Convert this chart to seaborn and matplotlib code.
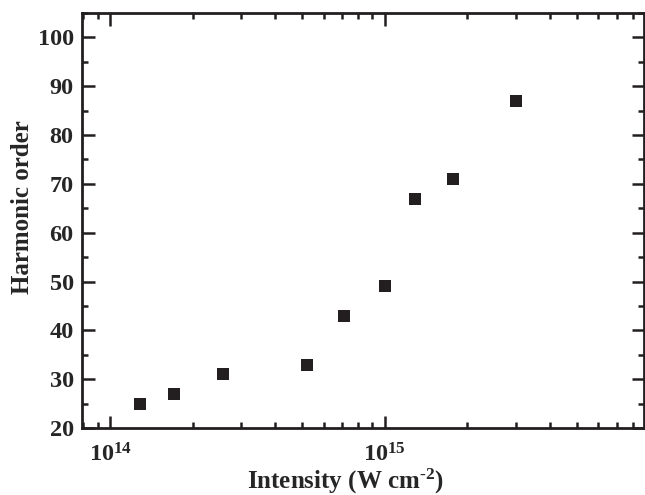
import numpy as np
import pandas as pd
import seaborn as sns
import matplotlib
matplotlib.use("Agg")
import matplotlib.pyplot as plt
from matplotlib.ticker import FuncFormatter, MultipleLocator, LogLocator

# values
intensity = [1.29e14, 1.71e14, 2.57e14, 5.2e14, 7.1e14, 1.0e15, 1.29e15, 1.78e15, 3.0e15]
harmonic_order = [25, 27, 31, 33, 43, 49, 67, 71, 87]

df = pd.DataFrame({"intensity": intensity, "order": harmonic_order})

sns.set_style("ticks")
plt.rcParams["font.family"] = ["Liberation Serif", "DejaVu Serif"]
plt.rcParams["font.weight"] = "bold"
plt.rcParams["mathtext.fontset"] = "custom"
plt.rcParams["mathtext.rm"] = "Liberation Serif:bold"
plt.rcParams["mathtext.bf"] = "Liberation Serif:bold"
plt.rcParams["mathtext.it"] = "Liberation Serif:bold"

fig = plt.figure(figsize=(6.45, 4.95), dpi=100)
ax = fig.add_axes([82 / 645, 1 - 428 / 495, 562 / 645, 415 / 495])

sns.scatterplot(data=df, x="intensity", y="order", marker="s", s=80,
                color="#231f20", linewidth=0, ax=ax, legend=False)

ax.set_xscale("log")
ax.set_xlim(7.9e13, 8.8e15)
ax.set_ylim(20, 105)
ax.xaxis.set_major_locator(LogLocator(base=10, numticks=10))
ax.xaxis.set_minor_locator(LogLocator(base=10, subs=np.arange(2, 10), numticks=20))
ax.xaxis.set_major_formatter(FuncFormatter(lambda v, p: r"$\mathbf{10^{%d}}$" % round(np.log10(v))))
ax.yaxis.set_minor_locator(MultipleLocator(5))
ax.set_yticks(range(20, 101, 10))

ax.tick_params(which="both", direction="in", top=True, right=True, color="#231f20")
ax.tick_params(which="major", length=9, width=1.8, labelsize=17.5)
ax.tick_params(axis="y", which="major", pad=6)
ax.tick_params(axis="x", which="major", pad=11)
ax.tick_params(which="minor", length=4.5, width=1.8)
for s in ax.spines.values():
    s.set_linewidth(2)
    s.set_color("#231f20")
    s.set_visible(True)

ax.set_xlabel(r"Intensity (W cm$^{\text{-2}}$)", fontsize=18, fontweight="bold")
ax.set_ylabel("Harmonic order", fontsize=18, fontweight="bold")
ax.xaxis.set_label_coords(0.468, -0.094)
ax.yaxis.set_label_coords(-0.085, 0.533)

fig.savefig("out.png", dpi=100)
